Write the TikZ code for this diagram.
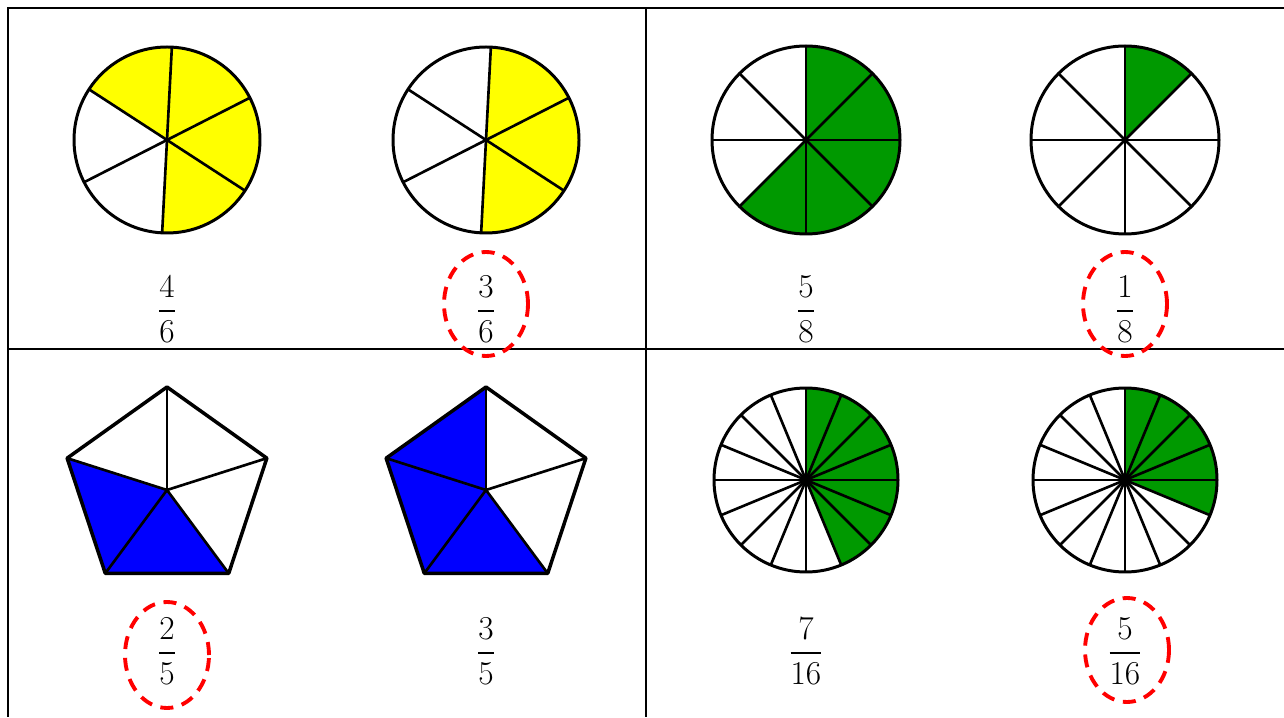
\RequirePackage{fix-cm}
\documentclass[tikz,border=0pt]{standalone}
\usepackage{amsmath}
\usetikzlibrary{calc}
\definecolor{fracyellow}{HTML}{FFFF00}
\definecolor{fracgreen}{HTML}{009900}
\definecolor{fracblue}{HTML}{0000FF}
\definecolor{pickred}{HTML}{FF0000}

% pie: centre, radius, parts, first ray, shaded parts, colour
\newcommand{\fracpie}[6]{%
  \fill[#6] (#1) -- ++(#4:#2) arc[start angle=#4, end angle={#4-#5*360/#3}, radius=#2] -- cycle;
  \foreach \k in {1,...,#3} \draw[ray] (#1) -- ++({#4-(\k-1)*360/#3}:#2);
  \draw[rim] (#1) circle[radius=#2];
}
\newcommand{\fr}[2]{$\genfrac{}{}{1.1pt}{0}{#1}{#2}$}

\begin{document}
\begin{tikzpicture}[
  x=0.02cm, y=0.02cm,
  grid/.style={line width=1.2pt},
  ray/.style={line width=1.5pt},
  rim/.style={line width=1.7pt},
  frac/.style={font=\fontsize{19}{23}\selectfont, inner sep=0pt},
  pick/.style={draw=pickred, line width=2.2pt, dash pattern=on 7.4pt off 5pt},
]
\useasboundingbox (0,0) rectangle (1284,717);

% table
\draw[grid] (1284,709) -- (8,709) -- (8,0);
\draw[grid] (646,709) -- (646,0);
\draw[grid] (8,368) -- (1284,368);

% circles
\coordinate (pa) at (167,577);
\coordinate (pb) at (486,577);
\coordinate (pc) at (806,577);
\coordinate (pd) at (1125,577);
\coordinate (pe) at (806,237);
\coordinate (pf) at (1125,237);
\fracpie{pa}{93}{6}{147}{4}{fracyellow}
\fracpie{pb}{93}{6}{87}{3}{fracyellow}
\fracpie{pc}{94}{8}{90}{5}{fracgreen}
\fracpie{pd}{94}{8}{90}{1}{fracgreen}
\fracpie{pe}{92}{16}{90}{7}{fracgreen}
\fracpie{pf}{92}{16}{90}{5}{fracgreen}

% pentagons
\coordinate (qa) at (167,227);
\coordinate (qb) at (486,227);
\foreach \q in {qa,qb}
  \foreach \a/\n in {90/1,162/2,234/3,306/4,18/5}
    \coordinate (\q\n) at ($(\q)+(\a:105 and 103)$);
\fill[fracblue] (qa) -- (qa2) -- (qa3) -- (qa4) -- cycle;
\fill[fracblue] (qb) -- (qb1) -- (qb2) -- (qb3) -- (qb4) -- cycle;
\foreach \q in {qa,qb} {
  \foreach \n in {1,...,5} \draw[ray] (\q) -- (\q\n);
  \draw[rim, line width=2pt, line join=round] (\q1) -- (\q2) -- (\q3) -- (\q4) -- (\q5) -- cycle;
}

% fractions
\node[frac] (f46)  at (167,408)  {\fr{4}{6}};
\node[frac] (f36)  at (486,408)  {\fr{3}{6}};
\node[frac] (f58)  at (806,408)  {\fr{5}{8}};
\node[frac] (f18)  at (1125,408) {\fr{1}{8}};
\node[frac] (f25)  at (167,66)   {\fr{2}{5}};
\node[frac] (f35)  at (486,66)   {\fr{3}{5}};
\node[frac] (f716) at (806,66)   {\fr{7}{16}};
\node[frac] (f516) at (1125,66)  {\fr{5}{16}};

% circled answers
\draw[pick] ($(f36)+(0,5)$)  ellipse[x radius=42, y radius=52];
\draw[pick] ($(f18)+(0,5)$)  ellipse[x radius=42, y radius=52];
\draw[pick] ($(f25)+(0,-4)$) ellipse[x radius=42, y radius=53];
\draw[pick] ($(f516)+(2,1)$) ellipse[x radius=42, y radius=52];
\end{tikzpicture}
\end{document}
